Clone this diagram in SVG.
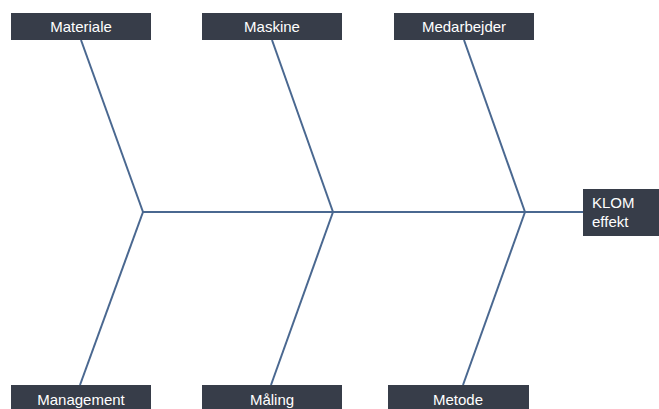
<svg xmlns="http://www.w3.org/2000/svg" width="659" height="409" viewBox="0 0 659 409">
<style>
.box{fill:#373d49}
.lbl{fill:#ffffff;font-family:"Liberation Sans",Arial,sans-serif;font-size:15px}
.c{text-anchor:middle}
.ln{stroke:#4a6890;stroke-width:2;fill:none}
</style>
<rect width="659" height="409" fill="#ffffff"/>
<g id="connectors">
<line class="ln" x1="143" y1="212" x2="583" y2="212"/>
<line class="ln" x1="81" y1="40" x2="143" y2="212"/>
<line class="ln" x1="143" y1="212" x2="80" y2="385"/>
<line class="ln" x1="272" y1="40" x2="333" y2="212"/>
<line class="ln" x1="333" y1="212" x2="271" y2="385"/>
<line class="ln" x1="464" y1="40" x2="525" y2="212"/>
<line class="ln" x1="525" y1="212" x2="463" y2="385"/>
</g>
<g id="materiale"><rect class="box" x="11" y="13" width="140" height="27"/><text class="lbl c" x="81" y="32">Materiale</text></g>
<g id="maskine"><rect class="box" x="202" y="13" width="140" height="27"/><text class="lbl c" x="272" y="32">Maskine</text></g>
<g id="medarbejder"><rect class="box" x="394" y="13" width="140" height="27"/><text class="lbl c" x="464" y="32">Medarbejder</text></g>
<g id="klom"><rect class="box" x="583" y="189" width="76" height="47"/><text class="lbl" x="592" y="208">KLOM</text><text class="lbl" x="592" y="227">effekt</text></g>
<g id="management"><rect class="box" x="11" y="385" width="140" height="27"/><text class="lbl c" x="81" y="405">Management</text></g>
<g id="maaling"><rect class="box" x="202" y="385" width="140" height="27"/><text class="lbl c" x="272" y="405">Måling</text></g>
<g id="metode"><rect class="box" x="388" y="385" width="141" height="27"/><text class="lbl c" x="458" y="405">Metode</text></g>
</svg>
